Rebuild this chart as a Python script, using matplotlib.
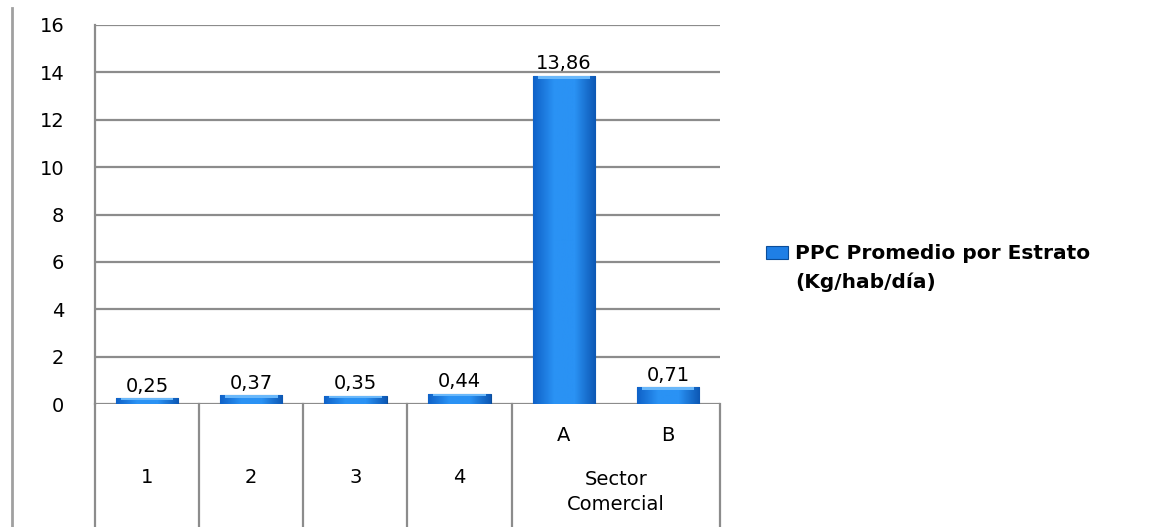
import numpy as np
import matplotlib.pyplot as plt
from matplotlib.lines import Line2D
from matplotlib.patches import Rectangle
from matplotlib.colors import LinearSegmentedColormap

# data
valores = [0.25, 0.37, 0.35, 0.44, 13.86, 0.71]
etiquetas_valor = ['0,25', '0,37', '0,35', '0,44', '13,86', '0,71']
estratos = ['1', '2', '3', '4']
sub_comercial = ['A', 'B']
grupo_comercial = 'Sector\nComercial'
serie = 'PPC Promedio por Estrato\n(Kg/hab/día)'
yticks = [0, 2, 4, 6, 8, 10, 12, 14, 16]

FS = 14
W, H = 1168, 527
fig = plt.figure(figsize=(W / 100, H / 100), dpi=100)
ax = fig.add_axes([95 / W, 123 / H, 625 / W, 379 / H])

x = np.arange(len(valores))
bars = ax.bar(x, valores, width=0.6, color='#1f7fe6', edgecolor='#0b4d9a',
              linewidth=0.8, zorder=3)

# gradient fill, darker at the sides
grad = LinearSegmentedColormap.from_list('g', ['#0f62c8', '#2a92f4', '#2a92f4', '#0d58b4'])
img = np.linspace(0, 1, 64).reshape(1, -1)
for b in bars:
    x0, w, h = b.get_x(), b.get_width(), b.get_height()
    im = ax.imshow(img, cmap=grad, aspect='auto', extent=[x0, x0 + w, 0, h], zorder=3.5)
    im.set_clip_path(b)
    # light top bevel
    ax.fill_between([x0 + w * 0.08, x0 + w * 0.92], h - min(0.12, h * 0.3), h,
                    color='#6ab8fa', zorder=3.6, linewidth=0)

ax.set_xlim(-0.5, len(valores) - 0.5)
ax.set_ylim(0, 16)
ax.set_yticks(yticks)
ax.set_yticklabels([str(t) for t in yticks], fontsize=FS)
ax.tick_params(axis='y', length=0, pad=22)
ax.set_xticks([])
ax.yaxis.grid(True, color='#8c8c8c', linewidth=1.6, zorder=0)
ax.set_axisbelow(True)
for s in ['top', 'right', 'bottom']:
    ax.spines[s].set_visible(False)
ax.spines['left'].set_color('#8c8c8c')
ax.spines['left'].set_linewidth(1.6)

for xi, v, t in zip(x, valores, etiquetas_valor):
    ax.text(xi, v + 0.1, t, ha='center', va='bottom', fontsize=FS, zorder=5)

# category table below the axis
tr = ax.get_xaxis_transform()
bottom = -123 / 379
for sx in [-0.5, 0.5, 1.5, 2.5, 3.5, 5.5]:
    ax.plot([sx, sx], [0, bottom], transform=tr, color='#8c8c8c', lw=1.6, clip_on=False)
for i, lab in enumerate(estratos):
    ax.text(i, -0.193, lab, transform=tr, ha='center', va='center', fontsize=FS)
for i, lab in enumerate(sub_comercial):
    ax.text(4 + i, -0.082, lab, transform=tr, ha='center', va='center', fontsize=FS)
ax.text(4.5, -0.232, grupo_comercial, transform=tr, ha='center', va='center',
        fontsize=FS, linespacing=1.45)

# outer left border of the chart
fig.add_artist(Line2D([12 / W, 12 / W], [0, 1 - 8 / H], color='#a0a0a0', lw=2))

# legend
fig.add_artist(Rectangle((766 / W, 1 - 259 / H), 22 / W, 13 / H, facecolor='#1f7fe6',
                         edgecolor='#0b4d9a', lw=0.8))
fig.text(795 / W, 1 - 268 / H, serie, ha='left', va='center', fontsize=14.5,
         fontweight='bold', linespacing=1.55)

fig.savefig('out.png', dpi=100)
